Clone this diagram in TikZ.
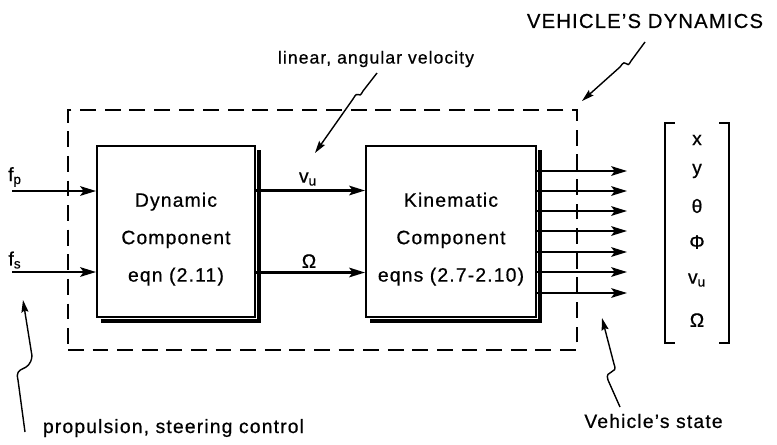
\documentclass[tikz,border=0pt]{standalone}
\usepackage{fontspec}
\setmainfont[LetterSpace=6,FakeBold=0.6]{Liberation Sans}
\usetikzlibrary{arrows.meta}

\begin{document}
\begin{tikzpicture}[x=0.02cm,y=-0.02cm,
  blk/.style={draw,line width=1.2pt,fill=white,
              minimum height=3.42cm,align=center,text height=60pt,text depth=3pt,
              font=\fontsize{11}{21.3}\selectfont},
  rim/.style={line width=2.4pt},
  lbl/.style={inner sep=0pt,font=\fontsize{11}{13}\selectfont},
  flow/.style={line width=1.2pt,-{Stealth[length=9pt,width=5.5pt,inset=2pt]}},
  ptr/.style={line width=0.8pt,-{Stealth[length=7pt,width=4pt,inset=1pt]}},
]
\useasboundingbox (0,0) rectangle (777,444);
\node[draw,line width=1.3pt,dash pattern=on 9pt off 5pt,
      minimum width=10.18cm,minimum height=4.8cm] (cage) at (322.5,230) {};
\node[blk,minimum width=3.16cm] (dyn) at (176,231.5) {Dynamic\\Component\\eqn (2.11)};
\node[blk,minimum width=3.4cm] (kin) at (451,231.5) {Kinematic\\Component\\eqns (2.7-2.10)};
\draw[rim] ([xshift=1.6pt,yshift=-3pt]dyn.north east) -- ([xshift=1.6pt,yshift=-1.6pt]dyn.south east)
  -- ([xshift=3pt,yshift=-1.6pt]dyn.south west);
\draw[rim] ([xshift=1.6pt,yshift=-3pt]kin.north east) -- ([xshift=1.6pt,yshift=-1.6pt]kin.south east)
  -- ([xshift=3pt,yshift=-1.6pt]kin.south west);
\node[lbl] (fp) at (15,177) {f\textsubscript{p}};
\node[lbl] (fs) at (15,260) {f\textsubscript{s}};
\node[lbl] (vu) at (308,179) {v\textsubscript{u}};
\node[lbl] (om) at (309,261) {Ω};
\coordinate (fp in) at (12,191);
\coordinate (fs in) at (12,272);
\draw[flow] (fp in) -- (fp in -| dyn.west);
\draw[flow] (fs in) -- (fs in -| dyn.west);
\draw[flow] ([yshift=0.82cm]dyn.east) -- ([yshift=0.82cm]kin.west);
\draw[flow] ([yshift=-0.82cm]dyn.east) -- ([yshift=-0.82cm]kin.west);
\foreach \y [count=\i] in {171,191,211,231,252,272,293}
  {\coordinate (o\i) at (627,\y);
   \draw[flow] (kin.east |- o\i) -- (o\i);}
\node[minimum width=1.28cm,minimum height=4.4cm,inner sep=0pt] (vec) at (697,233) {};
\draw[line width=1pt] ([xshift=0.2cm]vec.north west) -- (vec.north west)
  -- (vec.south west) -- ([xshift=0.2cm]vec.south west);
\draw[line width=1pt] ([xshift=-0.2cm]vec.north east) -- (vec.north east)
  -- (vec.south east) -- ([xshift=-0.2cm]vec.south east);
\foreach \t/\y [count=\i] in {x/140,y/171,θ/206,Φ/242,v\textsubscript{u}/280,Ω/320}
  \node[lbl] (s\i) at (697,\y) {\t};
\node[lbl,font=\fontsize{11.5}{13}\selectfont] (vdyn) at (645,21) {VEHICLE'S DYNAMICS};
\node[lbl,font=\fontsize{10}{12}\selectfont] (vel) at (376,59) {linear, angular velocity};
\node[lbl] (prop) at (173.5,428) {propulsion, steering control};
\node[lbl] (state) at (653.5,421) {Vehicle's state};
\coordinate (vdyn tail) at (645,42);
\coordinate (vdyn tip) at (582,101);
\coordinate (vel tail) at (377,73);
\coordinate (vel tip) at (315,153);
\coordinate (prop tail) at (25,432);
\coordinate (prop tip) at (23,300);
\coordinate (state tail) at (620,407);
\coordinate (state tip) at (602,318);
\draw[ptr] (vdyn tail) -- (631,61) .. controls (626,71) and (627,56) .. (620,67) -- (vdyn tip);
\draw[ptr] (vel tail) -- (363,91) .. controls (358,101) and (359,88) .. (353,99) -- (vel tip);
\draw[ptr] (prop tail) -- (18,380) .. controls (14,364) and (30,374) .. (32,356) -- (prop tip);
\draw[ptr] (state tail) -- (608,380) .. controls (604,369) and (619,375) .. (614,364) -- (state tip);
\end{tikzpicture}
\end{document}
